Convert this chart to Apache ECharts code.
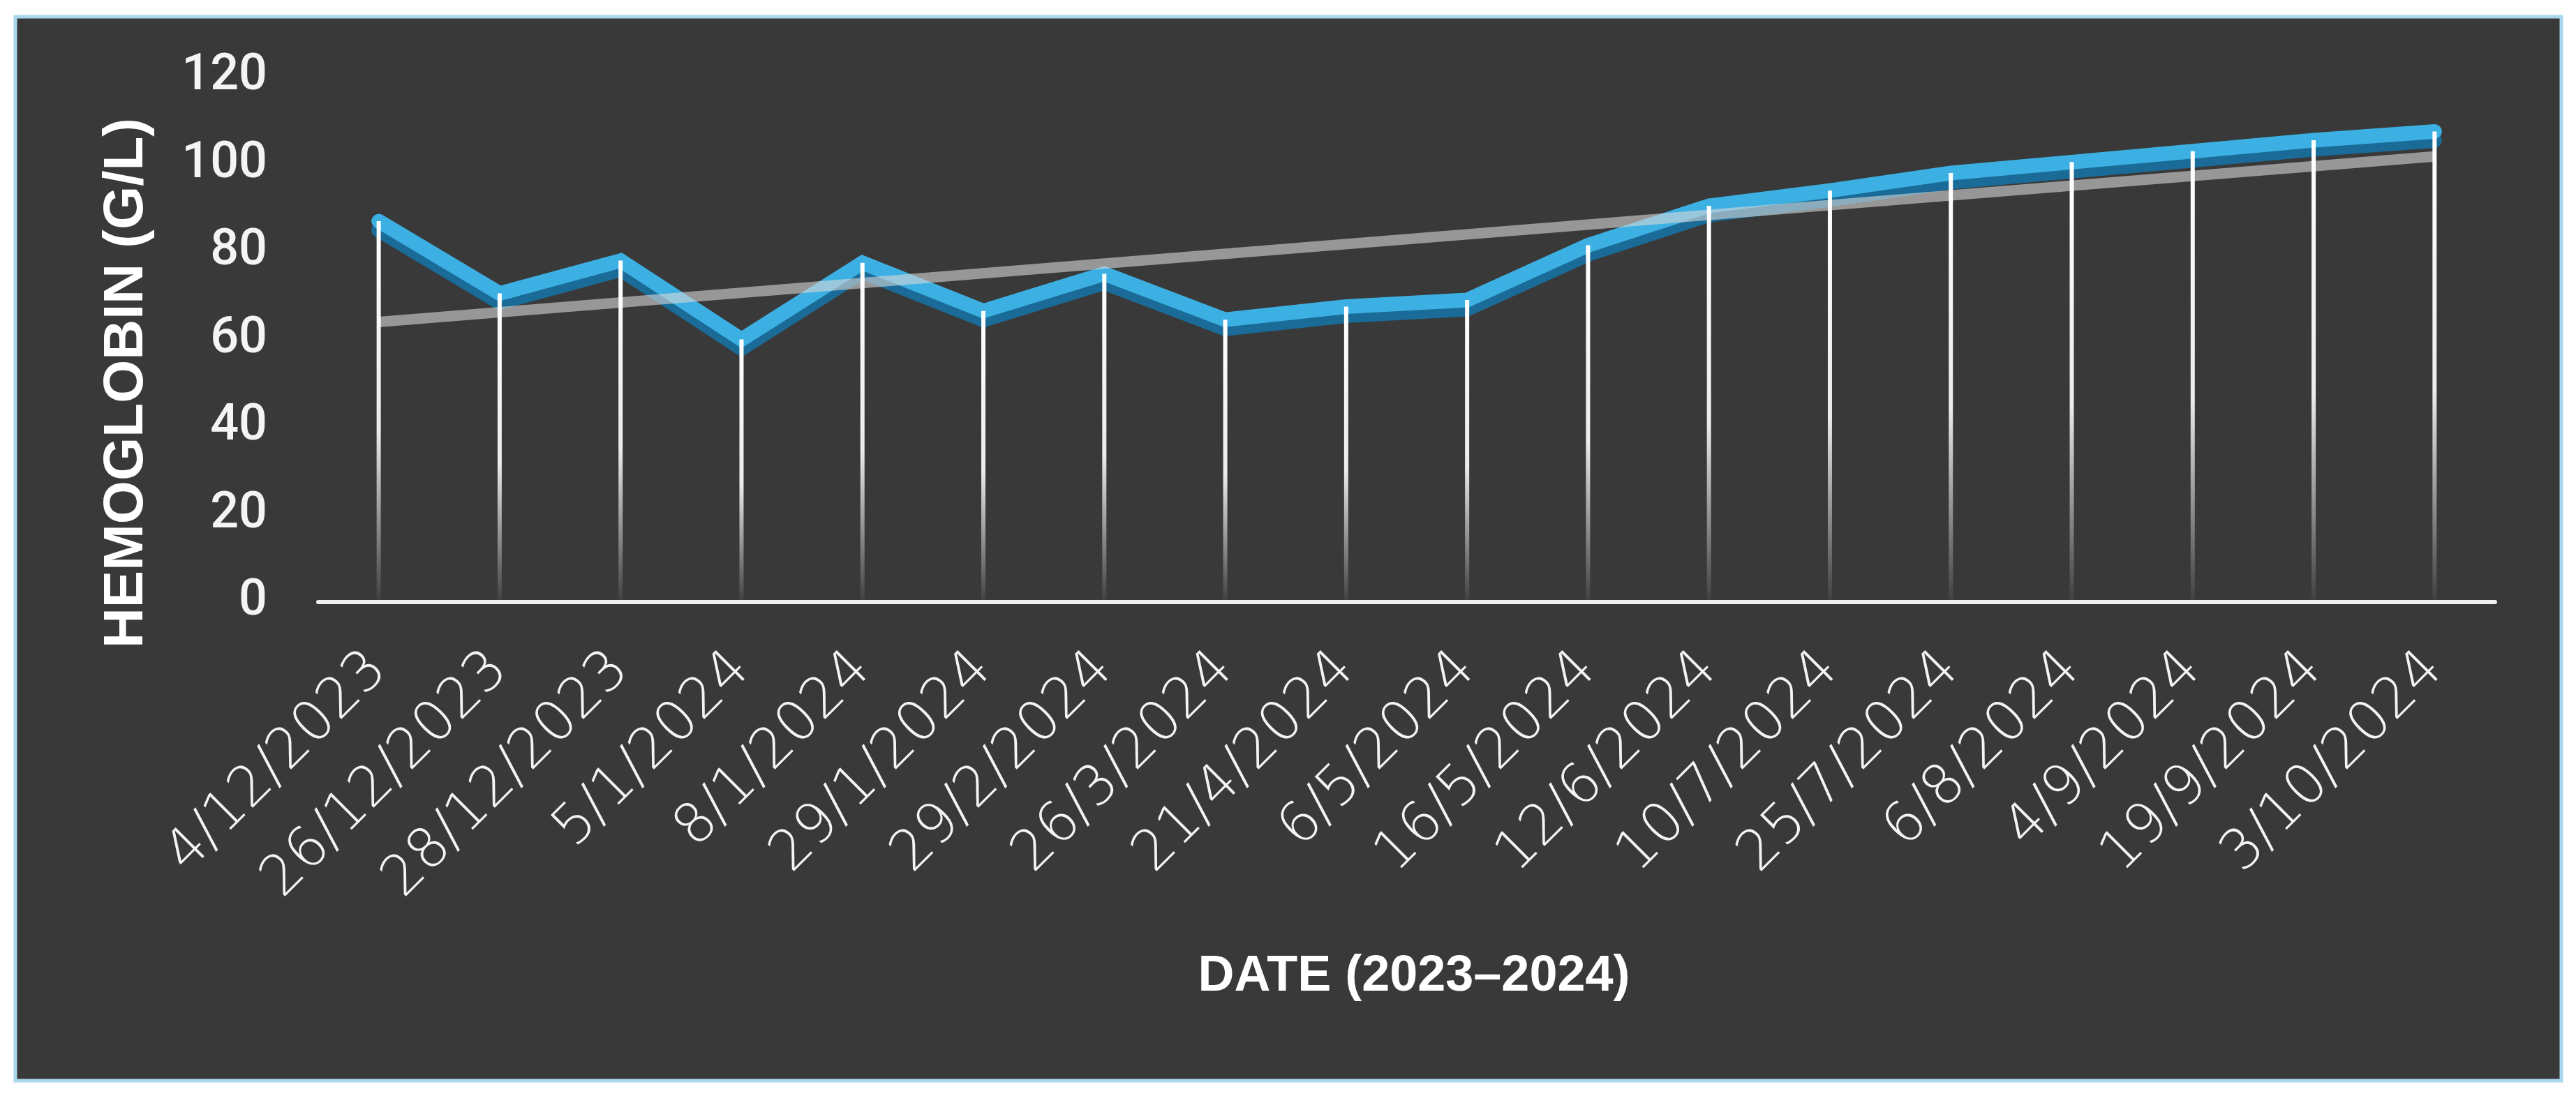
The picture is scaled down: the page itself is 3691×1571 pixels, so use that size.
<!DOCTYPE html>
<html>
<head>
<meta charset="utf-8">
<title>Hemoglobin</title>
<script src="https://cdn.jsdelivr.net/npm/echarts@6/dist/echarts.min.js"></script>
<style>
  html, body { margin: 0; padding: 0; background: #ffffff; }
  #main { width: 3691px; height: 1571px; }
</style>
</head>
<body>
<div id="main"></div>
<script>
// 日期（类目）
var dates = ['4/12/2023', '26/12/2023', '28/12/2023', '5/1/2024', '8/1/2024', '29/1/2024',
    '29/2/2024', '26/3/2024', '21/4/2024', '6/5/2024', '16/5/2024', '12/6/2024',
    '10/7/2024', '25/7/2024', '6/8/2024', '4/9/2024', '19/9/2024', '3/10/2024'];

// 血红蛋白数值 (g/L)
var hemoglobin = [87, 70.5, 78, 60, 77.5, 66.5, 75, 64.5, 67.5, 69, 81.5, 90.5,
    94, 98, 100.5, 103, 105.5, 107.5];

// 趋势线：只有首尾两个点
var trend = [64, null, null, null, null, null, null, null, null, null, null, null,
    null, null, null, null, null, 101.8];

var yTicks = [0, 20, 40, 60, 80, 100, 120];

var myChart = echarts.init(document.getElementById('main'));

var option = {
    backgroundColor: '#ffffff',
    animation: false,
    graphic: [
        {
            type: 'rect',
            z: -1,
            silent: true,
            shape: { x: 22, y: 24, width: 3648, height: 1525 },
            style: { fill: '#393939', stroke: '#a9d7ec', lineWidth: 5 }
        },
        {
            type: 'text',
            x: 182,
            y: 549,
            rotation: Math.PI / 2,
            style: {
                text: 'HEMOGLOBIN (G/L)',
                fill: '#ffffff',
                font: 'bold 80px "Liberation Sans", Arial, sans-serif',
                align: 'center',
                verticalAlign: 'middle'
            }
        },
        {
            type: 'text',
            x: 2026,
            y: 1400,
            style: {
                text: 'DATE (2023\u20132024)',
                fill: '#ffffff',
                font: 'bold 72px "Liberation Sans", Arial, sans-serif',
                align: 'center',
                verticalAlign: 'middle'
            }
        }
    ],
    grid: {
        left: 456,
        right: 116,
        top: 110,
        bottom: 708
    },
    xAxis: {
        type: 'category',
        data: dates,
        boundaryGap: true,
        axisLine: { lineStyle: { color: '#f0f0f0', width: 6 } },
        axisTick: { show: false },
        axisLabel: {
            rotate: 45,
            interval: 0,
            margin: 85,
            color: '#f4f4f4',
            fontFamily: '"DejaVu Sans Light", "DejaVu Sans", sans-serif',
            fontWeight: 200,
            fontSize: 80
        },
        splitLine: { show: false }
    },
    yAxis: {
        type: 'value',
        min: yTicks[0],
        max: yTicks[yTicks.length - 1],
        interval: 20,
        axisLine: { show: false },
        axisTick: { show: false },
        splitLine: { show: false },
        axisLabel: {
            margin: 73,
            color: '#f4f4f4',
            fontFamily: 'Roboto, sans-serif',
            fontWeight: 500,
            fontSize: 72
        }
    },
    series: [
        {
            name: 'Hemoglobin',
            type: 'line',
            data: hemoglobin,
            symbol: 'none',
            z: 2,
            lineStyle: {
                color: '#3cb0e3',
                width: 21,
                join: 'miter',
                cap: 'round',
                shadowColor: '#1a6b97',
                shadowBlur: 0,
                shadowOffsetY: 13
            }
        },
        {
            name: 'Trend',
            type: 'line',
            data: trend,
            connectNulls: true,
            symbol: 'none',
            z: 3,
            lineStyle: {
                color: 'rgba(215,215,215,0.6)',
                width: 15
            }
        },
        {
            name: 'Drop',
            type: 'bar',
            data: hemoglobin,
            barWidth: 6,
            z: 4,
            itemStyle: {
                color: new echarts.graphic.LinearGradient(0, 0, 0, 1, [
                    { offset: 0, color: 'rgba(255,255,255,1)' },
                    { offset: 0.55, color: 'rgba(255,255,255,0.9)' },
                    { offset: 1, color: 'rgba(255,255,255,0.03)' }
                ])
            }
        }
    ]
};

myChart.setOption(option);
</script>
</body>
</html>
